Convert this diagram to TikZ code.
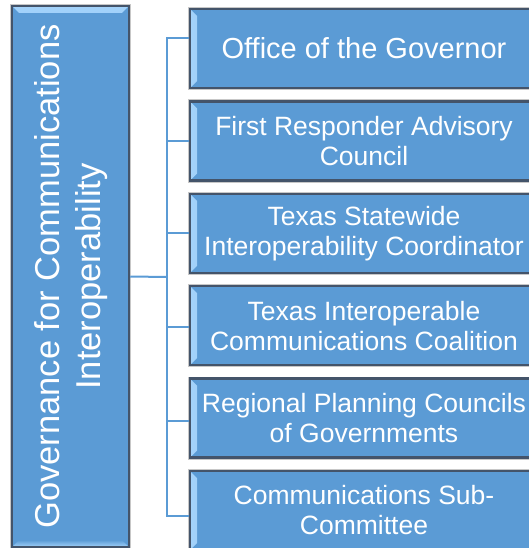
\documentclass[tikz,border=0pt]{standalone}
\usepackage{fontspec}
\setmainfont{Liberation Sans}
\usetikzlibrary{positioning}

\definecolor{boxfill}{HTML}{5B9BD5}
\definecolor{boxedge}{HTML}{44546A}
\definecolor{bevel}{HTML}{A3D2FA}

\tikzset{
	% child boxes with a bevelled left edge
	member/.style={draw=boxedge, line width=2.5pt, fill=boxfill, text=white,
		preaction={draw=black!22, line width=4pt},
		align=center, inner sep=0pt, minimum width=348pt, minimum height=79pt,
		font=\fontsize{26.5}{30}\selectfont,
		path picture={\shade[left color=bevel, right color=boxfill]
			(path picture bounding box.north west) -- ++(7pt,-7pt)
			-- ([shift={(7pt,7pt)}]path picture bounding box.south west)
			-- (path picture bounding box.south west) -- cycle;}},
	% tall root box, bevel on top and bottom
	root/.style={draw=boxedge, line width=2.5pt, fill=boxfill,
		preaction={draw=black!22, line width=4pt},
		inner sep=0pt, minimum width=117pt, minimum height=541pt,
		path picture={
			\shade[top color=bevel, bottom color=boxfill]
			(path picture bounding box.north west) -- ++(7pt,-7pt)
			-- ([shift={(-7pt,-7pt)}]path picture bounding box.north east)
			-- (path picture bounding box.north east) -- cycle;
			\shade[bottom color=bevel, top color=boxfill]
			(path picture bounding box.south west) -- ++(7pt,7pt)
			-- ([shift={(-7pt,7pt)}]path picture bounding box.south east)
			-- (path picture bounding box.south east) -- cycle;}},
	link/.style={draw=boxfill, line width=2pt}
}

\begin{document}
\begin{tikzpicture}[x=1pt, y=-1pt]
	\useasboundingbox (0,0) rectangle (528,548);

	\node[root] (gov) at (70.5,276.5) {};
	\node[rotate=90, text=white, align=center, font=\fontsize{34.5}{41}\selectfont]
		(govtext) at ([xshift=1pt]gov.center) {Governance for Communications\\Interoperability};

	\node[member, font=\fontsize{29}{33}\selectfont] (o1) at (364,48.5) {Office of the Governor};
	\node[member] (o2) at (364,141) {First Responder Advisory\\Council};
	\node[member] (o3) at (364,233.3) {Texas Statewide\\Interoperability Coordinator};
	\node[member] (o4) at (364,325.7) {Texas Interoperable\\Communications Coalition};
	\node[member] (o5) at (364,418.1) {Regional Planning Councils\\of Governments};
	\node[member] (o6) at (364,510.5) {Communications Sub-\\Committee};

	% trunk and branches
	\coordinate (trunk) at (167,277);
	\draw[link] (gov.east) -- (trunk);
	\draw[link] (trunk) |- ([yshift=10.5pt]o1.west);
	\draw[link] (trunk) |- (o2.west);
	\draw[link] (trunk) |- (o3.west);
	\draw[link] (trunk) |- ([yshift=-1pt]o4.west);
	\draw[link] (trunk) |- ([yshift=-3pt]o5.west);
	\draw[link] (trunk) |- ([yshift=-5.5pt]o6.west);
\end{tikzpicture}
\end{document}
